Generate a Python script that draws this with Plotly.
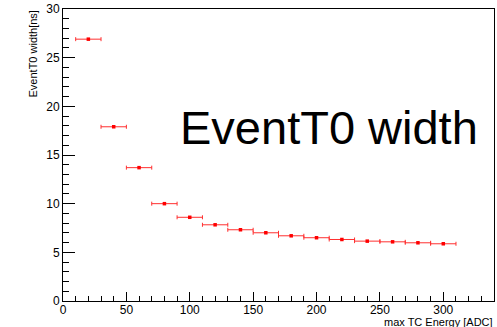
import plotly.graph_objects as go

# data
energy = [20, 40, 60, 80, 100, 120, 140, 160, 180, 200, 220, 240, 260, 280, 300]
bin_half = [10] * 15
width_ns = [26.9, 17.9, 13.7, 10.0, 8.6, 7.83, 7.32, 7.01, 6.70, 6.50, 6.32, 6.15, 6.08, 5.98, 5.88]
xticks = [0, 50, 100, 150, 200, 250, 300]
yticks = [0, 5, 10, 15, 20, 25, 30]

W, H = 497, 327
L, R, T, B = 63, 3, 9, 26
FONT = "Liberation Sans, Arial, sans-serif"

fig = go.Figure()
fig.add_trace(go.Scatter(
    x=energy, y=width_ns, mode="markers",
    marker=dict(symbol="square", size=3.5, color="#ff0000", line=dict(width=0)),
    error_x=dict(type="data", array=bin_half, visible=True, color="#ff3030",
                 thickness=1, width=2),
    showlegend=False,
))

fig.update_layout(
    width=W, height=H,
    margin=dict(l=L, r=R, t=T, b=B, pad=0),
    paper_bgcolor="white", plot_bgcolor="white",
    font=dict(family=FONT, color="black", size=12),
    xaxis=dict(range=[0, 340], tickvals=xticks, ticks="inside", ticklen=9,
               tickcolor="black", tickwidth=1, showgrid=False, zeroline=False,
               showline=True, linecolor="black", linewidth=1, mirror=True,
               tickfont=dict(size=12, family=FONT), ticklabelstandoff=-2,
               minor=dict(dtick=10, tick0=0, ticks="inside", ticklen=5,
                          tickcolor="black", showgrid=False)),
    yaxis=dict(range=[0, 30], tickvals=yticks, ticks="inside", ticklen=12,
               tickcolor="black", tickwidth=1, showgrid=False, zeroline=False,
               showline=True, linecolor="black", linewidth=1, mirror=True,
               tickfont=dict(size=12, family=FONT),
               minor=dict(dtick=1, tick0=0, ticks="inside", ticklen=6,
                          tickcolor="black", showgrid=False)),
)

pw = W - L - R
ph = H - T - B

def px_x(px):
    return (px - L) / pw

def px_y(py):
    return 1 - (py - T) / ph

fig.add_annotation(text="EventT0 width[ns]", textangle=-90, showarrow=False,
                   xref="paper", yref="paper", x=px_x(32), y=px_y(9),
                   xanchor="center", yanchor="top",
                   font=dict(size=11, family=FONT, color="black"))
fig.add_annotation(text="max TC Energy [ADC]", showarrow=False,
                   xref="paper", yref="paper", x=px_x(495), y=px_y(330),
                   xanchor="right", yanchor="bottom",
                   font=dict(size=11, family=FONT, color="black"))
fig.add_annotation(text="EventT0 width", showarrow=False,
                   xref="paper", yref="paper", x=px_x(178), y=px_y(128),
                   xanchor="left", yanchor="middle",
                   font=dict(size=47, family=FONT, color="black"))

fig.write_html("out.html")
